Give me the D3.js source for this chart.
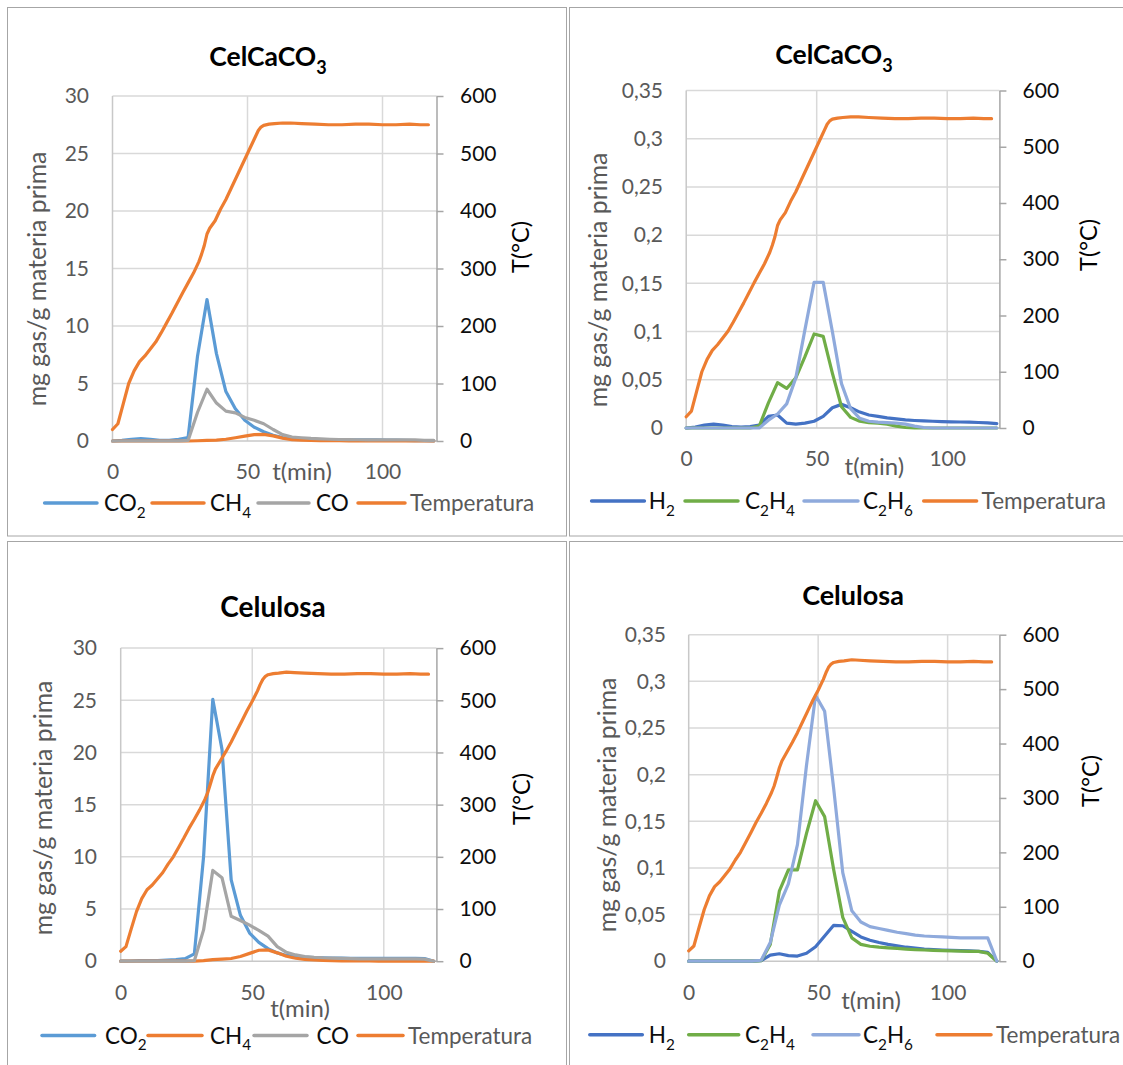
<!DOCTYPE html>
<html>
<head>
<meta charset="utf-8">
<script src="https://cdn.jsdelivr.net/npm/d3@7"></script>
<style>
  html, body { margin: 0; padding: 0; background: #fff; }
  svg { display: block; font-family: Lato, "Open Sans", sans-serif; }
</style>
</head>
<body>
<svg id="chart" width="1123" height="1065"></svg>
<script>
// ---------------- DATA ----------------
const tGas = [0, 3.5, 7, 10.5, 14, 17.5, 21, 24.5, 28, 31.5, 35, 38.5, 42, 45.5, 49, 52.5, 56, 59.5, 63, 66.5, 70, 73.5, 77, 80.5, 84, 87.5, 91, 94.5, 98, 101.5, 105, 108.5, 112, 115.5, 119];

// CelCaCO3
const co2CelCaCO3 = [0, 0.05, 0.15, 0.2, 0.15, 0.05, 0.05, 0.15, 0.3, 7.4, 12.3, 7.6, 4.3, 2.8, 1.8, 1.2, 0.8, 0.5, 0.3, 0.2, 0.15, 0.12, 0.1, 0.1, 0.1, 0.1, 0.1, 0.1, 0.1, 0.08, 0.08, 0.05, 0.03, 0.02, 0];
const ch4CelCaCO3 = [0, 0, 0, 0, 0, 0, 0, 0, 0, 0.02, 0.05, 0.08, 0.15, 0.28, 0.42, 0.55, 0.57, 0.45, 0.25, 0.12, 0.07, 0.05, 0.03, 0.02, 0.02, 0.01, 0.01, 0.01, 0.01, 0.01, 0, 0, 0, 0, 0];
const coCelCaCO3 = [0, 0, 0, 0, 0, 0, 0, 0, 0.05, 2.5, 4.5, 3.3, 2.6, 2.45, 2.05, 1.8, 1.5, 1.0, 0.55, 0.35, 0.28, 0.22, 0.18, 0.15, 0.13, 0.12, 0.11, 0.1, 0.1, 0.1, 0.1, 0.1, 0.1, 0.05, 0.05];
const h2CelCaCO3 = [0, 0.001, 0.003, 0.004, 0.003, 0.0015, 0.001, 0.0015, 0.003, 0.012, 0.0135, 0.005, 0.004, 0.005, 0.007, 0.012, 0.021, 0.0245, 0.021, 0.0165, 0.0135, 0.012, 0.0105, 0.0095, 0.0085, 0.0078, 0.0073, 0.007, 0.0067, 0.0064, 0.0062, 0.006, 0.0057, 0.0053, 0.0046];
const c2h4CelCaCO3 = [0, 0, 0, 0, 0, 0, 0, 0, 0.002, 0.026, 0.047, 0.041, 0.052, 0.074, 0.0975, 0.095, 0.057, 0.022, 0.011, 0.007, 0.0055, 0.005, 0.004, 0.002, 0.0005, 0, 0, 0, 0, 0, 0, 0, 0, 0, 0];
const c2h6CelCaCO3 = [0, 0, 0, 0, 0, 0, 0, 0, 0, 0.008, 0.0145, 0.025, 0.052, 0.102, 0.151, 0.151, 0.1, 0.046, 0.02, 0.01, 0.007, 0.006, 0.0055, 0.005, 0.004, 0.002, 0.0005, 0, 0, 0, 0, 0, 0, 0, 0];

// Celulosa
const co2Celulosa = [0, 0.02, 0.05, 0.05, 0.05, 0.1, 0.15, 0.25, 0.7, 10, 25.1, 20.3, 7.8, 4.4, 2.7, 1.8, 1.2, 0.8, 0.55, 0.45, 0.4, 0.35, 0.33, 0.3, 0.3, 0.28, 0.28, 0.28, 0.28, 0.28, 0.28, 0.28, 0.28, 0.25, 0];
const ch4Celulosa = [0, 0, 0, 0, 0, 0, 0, 0, 0, 0.05, 0.15, 0.2, 0.26, 0.45, 0.75, 1.05, 1.08, 0.8, 0.48, 0.28, 0.18, 0.12, 0.08, 0.05, 0.03, 0.03, 0.02, 0.02, 0.01, 0.01, 0, 0, 0, 0, 0];
const coCelulosa = [0, 0, 0, 0, 0, 0, 0, 0, 0.05, 3.0, 8.7, 8.0, 4.3, 3.9, 3.45, 2.95, 2.4, 1.4, 0.85, 0.6, 0.45, 0.38, 0.33, 0.3, 0.27, 0.25, 0.23, 0.22, 0.22, 0.22, 0.22, 0.22, 0.22, 0.2, 0];
const h2Celulosa = [0, 0, 0, 0, 0, 0, 0, 0, 0.0005, 0.0065, 0.008, 0.006, 0.0055, 0.0085, 0.0155, 0.027, 0.0385, 0.038, 0.032, 0.026, 0.0225, 0.02, 0.018, 0.0165, 0.015, 0.014, 0.013, 0.0125, 0.012, 0.0117, 0.0113, 0.011, 0.0105, 0.0095, 0];
const c2h4Celulosa = [0, 0, 0, 0, 0, 0, 0, 0, 0.0005, 0.018, 0.075, 0.098, 0.098, 0.137, 0.172, 0.155, 0.098, 0.047, 0.025, 0.018, 0.016, 0.015, 0.0143, 0.0137, 0.013, 0.0125, 0.012, 0.0117, 0.0113, 0.011, 0.0108, 0.0106, 0.0105, 0.0085, 0];
const c2h6Celulosa = [0, 0, 0, 0, 0, 0, 0, 0, 0.001, 0.02, 0.06, 0.083, 0.125, 0.21, 0.285, 0.268, 0.185, 0.095, 0.054, 0.042, 0.037, 0.035, 0.033, 0.031, 0.0295, 0.028, 0.027, 0.0265, 0.026, 0.0255, 0.025, 0.025, 0.025, 0.025, 0];

// Temperature
const tTemp = [0, 2, 4, 6, 8, 10, 12, 14, 16, 18, 20, 22, 24, 26, 28, 30, 32, 33, 34, 35, 36, 38, 40, 42, 44, 46, 48, 50, 52, 53, 54, 55, 56, 58, 60, 63, 66, 70, 75, 80, 85, 90, 95, 100, 105, 110, 114, 117];
const tempCelCaCO3 = [20, 30, 65, 100, 122, 138, 148, 160, 172, 188, 205, 222, 240, 258, 275, 292, 312, 325, 340, 360, 370, 383, 403, 420, 440, 460, 480, 500, 520, 530, 540, 546, 549, 551, 552, 553, 553, 552, 551, 550, 550, 551, 551, 550, 550, 551, 550, 550];
const tempCelulosa = [19, 28, 62, 95, 120, 137, 146, 158, 170, 186, 200, 218, 236, 255, 272, 290, 310, 322, 338, 355, 368, 385, 402, 420, 440, 460, 480, 498, 518, 530, 540, 546, 549, 551, 552, 554, 553, 552, 551, 550, 550, 551, 551, 550, 550, 551, 550, 550];

// Ticks / labels
const xTicks = [0, 50, 100];
const ticksMg = [0, 5, 10, 15, 20, 25, 30];
const labelsMg = ["0", "5", "10", "15", "20", "25", "30"];
const ticksSmall = [0, 0.05, 0.1, 0.15, 0.2, 0.25, 0.3, 0.35];
const labelsSmall = ["0", "0,05", "0,1", "0,15", "0,2", "0,25", "0,3", "0,35"];
const ticksTemp = [0, 100, 200, 300, 400, 500, 600];
const labelsTemp = ["0", "100", "200", "300", "400", "500", "600"];

const namesMain = [["CO", "2"], ["CH", "4"], ["CO", ""], ["Temperatura", ""]];
const namesLight = [["H", "2"], ["C", "2", "H", "4"], ["C", "2", "H", "6"], ["Temperatura", ""]];
const colorsMain = ["#5B9BD5", "#ED7D31", "#A5A5A5", "#ED7D31"];
const colorsLight = ["#4472C4", "#70AD47", "#8FAADC", "#ED7D31"];

// ---------------- LAYOUT ----------------
const panels = [
  { title: ["CelCaCO", "3"], titleX: 268, titleY: 66, titleSize: 26.5,
    box: [7.5, 7.5, 566.5, 536], left: 112.5, right: 436.5, top: 96, bottom: 441,
    yMax: 30, yTicks: ticksMg, yLabels: labelsMg,
    series: [co2CelCaCO3, ch4CelCaCO3, coCelCaCO3], temp: tempCelCaCO3,
    names: namesMain, colors: colorsMain,
    leftLabelX: 89, rightLabelX: 460, yTitleX: 37.5, yTitleY: 279, tTitleX: 521, tTitleY: 247,
    xTickY: 472, xTitleX: 302, xTitleY: 472, legendY: 503,
    legend: [[44.6, 97, 104], [152, 204, 210], [258, 309, 316], [358, 405, 410]] },
  { title: ["CelCaCO", "3"], titleX: 834, titleY: 63.7, titleSize: 26.5,
    box: [569.5, 7.5, 1130, 536], left: 686.2, right: 999.4, top: 90.5, bottom: 428,
    yMax: 0.35, yTicks: ticksSmall, yLabels: labelsSmall,
    series: [h2CelCaCO3, c2h4CelCaCO3, c2h6CelCaCO3], temp: tempCelCaCO3,
    names: namesLight, colors: colorsLight,
    leftLabelX: 663, rightLabelX: 1022.6, yTitleX: 598.7, yTitleY: 280, tTitleX: 1088.7, tTitleY: 245,
    xTickY: 459, xTitleX: 874.4, xTitleY: 466.6, legendY: 501,
    legend: [[591.6, 644.4, 648.7], [685, 738, 745], [804, 858, 863], [923.7, 976.6, 981.6]] },
  { title: ["Celulosa", ""], titleX: 273, titleY: 617, titleSize: 28,
    box: [7.5, 541.5, 566.5, 1080], left: 120.7, right: 436.4, top: 648.1, bottom: 961.2,
    yMax: 30, yTicks: ticksMg, yLabels: labelsMg,
    series: [co2Celulosa, ch4Celulosa, coCelulosa], temp: tempCelulosa,
    names: namesMain, colors: colorsMain,
    leftLabelX: 97, rightLabelX: 459.6, yTitleX: 43.6, yTitleY: 808, tTitleX: 522, tTitleY: 799,
    xTickY: 992.6, xTitleX: 300, xTitleY: 1008.7, legendY: 1035.5,
    legend: [[42, 94.6, 105], [148, 202, 210], [254, 307, 316.4], [358, 403, 408]] },
  { title: ["Celulosa", ""], titleX: 853, titleY: 605, titleSize: 27,
    box: [569.5, 541.5, 1130, 1080], left: 688.7, right: 999.4, top: 634.7, bottom: 961.2,
    yMax: 0.35, yTicks: ticksSmall, yLabels: labelsSmall,
    series: [h2Celulosa, c2h4Celulosa, c2h6Celulosa], temp: tempCelulosa,
    names: namesLight, colors: colorsLight,
    leftLabelX: 666, rightLabelX: 1022.6, yTitleX: 607.6, yTitleY: 805, tTitleX: 1091, tTitleY: 781,
    xTickY: 992.6, xTitleX: 871, xTitleY: 1001, legendY: 1034.8,
    legend: [[589.8, 642.3, 648.7], [688.7, 738.7, 745], [813, 859, 863], [937, 991, 996]] }
];

const svg = d3.select("#chart");
svg.append("rect").attr("width", 1123).attr("height", 1065).attr("fill", "#fff");

function addSubText(sel, parts, size) {
  // parts: alternating normal / subscript pieces
  parts.forEach((p, i) => {
    if (p === "") return;
    const isSub = i % 2 === 1;
    sel.append("tspan")
      .attr("font-size", isSub ? size * 0.68 : size)
      .attr("dy", isSub ? size * 0.3 : (i > 0 ? -size * 0.3 : 0))
      .text(p);
  });
}

function drawPanel(c) {
  const g = svg.append("g");
  const [bx0, by0, bx1, by1] = c.box;
  g.append("rect").attr("x", bx0).attr("y", by0).attr("width", bx1 - bx0).attr("height", by1 - by0)
    .attr("fill", "none").attr("stroke", "#a6a6a6").attr("stroke-width", 1);

  const x = d3.scaleLinear().domain([0, 120]).range([c.left, c.right]);
  const y = d3.scaleLinear().domain([0, c.yMax]).range([c.bottom, c.top]);
  const yT = d3.scaleLinear().domain([0, 600]).range([c.bottom, c.top]);

  // gridlines
  g.append("g").selectAll("line").data(c.yTicks.filter(v => v > 0)).join("line")
    .attr("x1", c.left).attr("x2", c.right).attr("y1", d => y(d)).attr("y2", d => y(d))
    .attr("stroke", "#d9d9d9").attr("stroke-width", 1.5);
  g.append("g").selectAll("line").data(xTicks.filter(v => v > 0)).join("line")
    .attr("x1", d => x(d)).attr("x2", d => x(d)).attr("y1", c.top).attr("y2", c.bottom)
    .attr("stroke", "#d9d9d9").attr("stroke-width", 1.5);
  // left & bottom plot edges
  g.append("line").attr("x1", c.left).attr("x2", c.left).attr("y1", c.top).attr("y2", c.bottom)
    .attr("stroke", "#c8c8c8").attr("stroke-width", 1.5);
  g.append("line").attr("x1", c.left).attr("x2", c.right).attr("y1", c.bottom).attr("y2", c.bottom)
    .attr("stroke", "#c8c8c8").attr("stroke-width", 1.5);

  // left axis
  const la = g.append("g").attr("transform", `translate(${c.left},0)`)
    .call(d3.axisLeft(y).tickValues(c.yTicks).tickSize(0).tickPadding(c.left - c.leftLabelX)
      .tickFormat((d, i) => c.yLabels[i]));
  la.select(".domain").remove();
  la.selectAll("text").attr("font-size", 21).attr("fill", "#595959").attr("font-family", "Lato");

  // right axis
  const ra = g.append("g").attr("transform", `translate(${c.right},0)`)
    .call(d3.axisRight(yT).tickValues(ticksTemp).tickSize(7).tickSizeOuter(0)
      .tickPadding(c.rightLabelX - c.right - 7).tickFormat((d, i) => labelsTemp[i]));
  ra.select(".domain").attr("stroke", "#a6a6a6").attr("stroke-width", 1.5);
  ra.selectAll(".tick line").attr("stroke", "#a6a6a6").attr("stroke-width", 1.5);
  ra.selectAll("text").attr("font-size", 21).attr("fill", "#0d0d0d").attr("font-family", "Lato");

  // bottom axis
  const ba = g.append("g").attr("transform", `translate(0,${c.bottom})`)
    .call(d3.axisBottom(x).tickValues(xTicks).tickSize(0));
  ba.select(".domain").remove();
  ba.selectAll("text").attr("y", c.xTickY - c.bottom).attr("dy", "0.35em")
    .attr("font-size", 21).attr("fill", "#595959").attr("font-family", "Lato");

  // series
  const line = d3.line().x(d => x(d[0])).y(d => y(d[1]));
  c.series.forEach((s, i) => {
    g.append("path").datum(d3.zip(tGas, s)).attr("d", line)
      .attr("fill", "none").attr("stroke", c.colors[i]).attr("stroke-width", 3.2)
      .attr("stroke-linejoin", "round").attr("stroke-linecap", "round");
  });
  const tline = d3.line().x(d => x(d[0])).y(d => yT(d[1]));
  g.append("path").datum(d3.zip(tTemp, c.temp)).attr("d", tline)
    .attr("fill", "none").attr("stroke", c.colors[3]).attr("stroke-width", 3.2)
    .attr("stroke-linejoin", "round").attr("stroke-linecap", "round");

  // titles
  const tt = g.append("text").attr("x", c.titleX).attr("y", c.titleY).attr("text-anchor", "middle")
    .attr("font-weight", "bold").attr("fill", "#000");
  addSubText(tt, c.title, c.titleSize);

  g.append("text").attr("transform", `translate(${c.yTitleX},${c.yTitleY}) rotate(-90)`)
    .attr("text-anchor", "middle").attr("dy", "0.35em").attr("font-size", 24.8).attr("fill", "#595959")
    .text("mg gas/g materia prima");
  g.append("text").attr("transform", `translate(${c.tTitleX},${c.tTitleY}) rotate(-90)`)
    .attr("text-anchor", "middle").attr("dy", "0.35em").attr("font-size", 23.5).attr("fill", "#000")
    .text("T(°C)");
  g.append("text").attr("x", c.xTitleX).attr("y", c.xTitleY).attr("text-anchor", "middle")
    .attr("dy", "0.35em").attr("font-size", 24).attr("fill", "#595959").text("t(min)");

  // legend
  c.legend.forEach((L, i) => {
    g.append("line").attr("x1", L[0]).attr("x2", L[1]).attr("y1", c.legendY).attr("y2", c.legendY)
      .attr("stroke", c.colors[i]).attr("stroke-width", 3.5).attr("stroke-linecap", "round");
    const t = g.append("text").attr("x", L[2]).attr("y", c.legendY + 8)
      .attr("fill", i === 3 ? "#595959" : "#0d0d0d");
    addSubText(t, c.names[i], 22.5);
  });
}

panels.forEach(drawPanel);
</script>
</body>
</html>
